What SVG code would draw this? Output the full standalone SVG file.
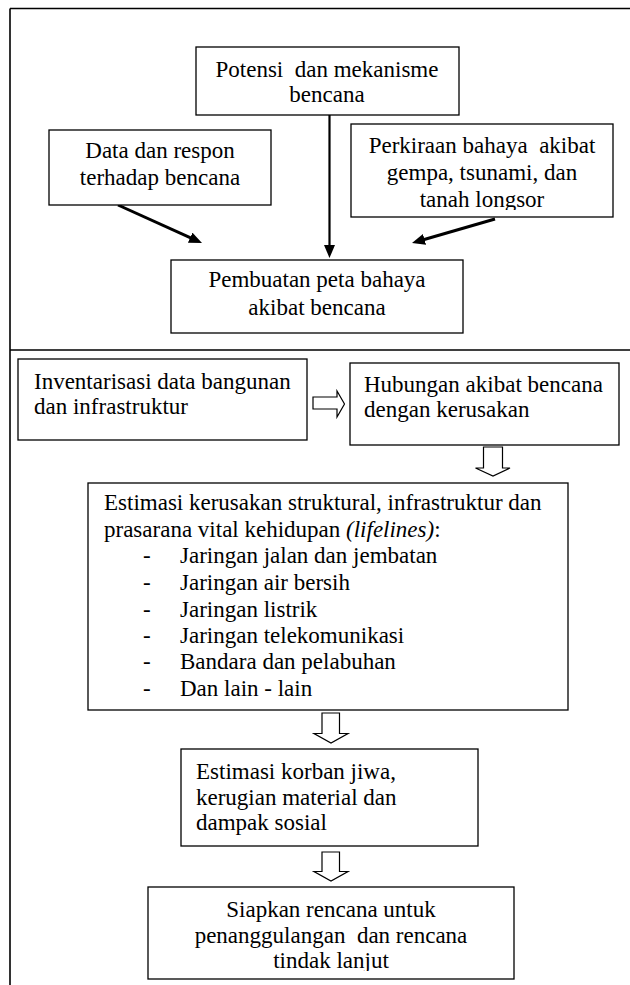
<svg xmlns="http://www.w3.org/2000/svg" width="630" height="985" viewBox="0 0 630 985">
<style>
.box{fill:#fff;stroke:#000;stroke-width:1.3}
.frame{fill:none;stroke:#000;stroke-width:1.6}
text{font-family:"Liberation Serif","Times New Roman",serif;font-size:23px;fill:#000}
.c{text-anchor:middle}
.arr{stroke:#000;stroke-width:3;fill:none}
.hollow{fill:#fff;stroke:#000;stroke-width:1.2;stroke-linejoin:miter}
</style>
<defs>
<marker id="ah" markerUnits="userSpaceOnUse" markerWidth="14" markerHeight="12" refX="3" refY="5.5" orient="auto">
<path d="M0,0 L13,5.5 L0,11 Z" fill="#000"/>
</marker>
<clipPath id="clipP"><rect x="351" y="124" width="262" height="86"/></clipPath>
<clipPath id="clipS"><rect x="148" y="887" width="366" height="84"/></clipPath>
</defs>
<rect width="630" height="985" fill="#fff"/>
<g id="frame">
<path class="frame" d="M10,8.5 H632 M10,8.5 V985 M10,350 H632"/>
</g>
<g id="connectors">
<line class="arr" x1="329.5" y1="115" x2="329.5" y2="248" style="stroke-width:2.2" marker-end="url(#ah)"/>
<line class="arr" x1="118" y1="205" x2="192.9" y2="238.9" marker-end="url(#ah)"/>
<line class="arr" x1="495" y1="219" x2="421.6" y2="240.2" marker-end="url(#ah)"/>
<path class="hollow" d="M313,397 H337 V391 L344.5,404 L337,417 V409 H313 Z"/>
<path class="hollow" d="M483.5,447 H502.5 V468 H510 L493,476 L475.5,468 H483.5 Z"/>
<path class="hollow" d="M322,713 H339.5 V733.5 H348 L331,743 L314,733.5 H322 Z"/>
<path class="hollow" d="M322,852 H339.5 V871.5 H348 L331,881 L314,871.5 H322 Z"/>
</g>
<g id="n1">
<rect class="box" x="196" y="47" width="263" height="68"/>
<text class="c" x="327" y="77" xml:space="preserve">Potensi  dan mekanisme</text>
<text class="c" x="327" y="102">bencana</text>
</g>
<g id="n2">
<rect class="box" x="49" y="130" width="222" height="75"/>
<text class="c" x="160" y="158">Data dan respon</text>
<text class="c" x="160" y="185">terhadap bencana</text>
</g>
<g id="n3">
<rect class="box" x="351" y="124" width="262" height="93"/>
<g clip-path="url(#clipP)">
<text class="c" x="482" y="153" xml:space="preserve">Perkiraan bahaya  akibat</text>
<text class="c" x="482" y="180">gempa, tsunami, dan</text>
<text class="c" x="482" y="207">tanah longsor</text>
</g>
</g>
<g id="n4">
<rect class="box" x="171" y="260" width="292" height="73"/>
<text class="c" x="317" y="287">Pembuatan peta bahaya</text>
<text class="c" x="317" y="315">akibat bencana</text>
</g>
<g id="n5">
<rect class="box" x="18" y="359" width="289" height="81"/>
<text x="34" y="389">Inventarisasi data bangunan</text>
<text x="34" y="414">dan infrastruktur</text>
</g>
<g id="n6">
<rect class="box" x="350" y="363" width="269" height="82"/>
<text x="364" y="392">Hubungan akibat bencana</text>
<text x="364" y="417">dengan kerusakan</text>
</g>
<g id="n7">
<rect class="box" x="88" y="483" width="480" height="227"/>
<text x="104" y="510">Estimasi kerusakan struktural, infrastruktur dan</text>
<text x="104" y="537">prasarana vital kehidupan <tspan font-style="italic">(lifelines)</tspan>:</text>
<text x="143" y="563">-</text><text x="180" y="563">Jaringan jalan dan jembatan</text>
<text x="143" y="590">-</text><text x="180" y="590">Jaringan air bersih</text>
<text x="143" y="617">-</text><text x="180" y="617">Jaringan listrik</text>
<text x="143" y="643">-</text><text x="180" y="643">Jaringan telekomunikasi</text>
<text x="143" y="669">-</text><text x="180" y="669">Bandara dan pelabuhan</text>
<text x="143" y="696">-</text><text x="180" y="696">Dan lain - lain</text>
</g>
<g id="n8">
<rect class="box" x="181" y="749" width="297" height="97"/>
<text x="196" y="779">Estimasi korban jiwa,</text>
<text x="196" y="805">kerugian material dan</text>
<text x="196" y="830">dampak sosial</text>
</g>
<g id="n9">
<rect class="box" x="148" y="887" width="366" height="92"/>
<g clip-path="url(#clipS)">
<text class="c" x="331" y="917">Siapkan rencana untuk</text>
<text class="c" x="331" y="943" xml:space="preserve">penanggulangan  dan rencana</text>
<text class="c" x="331" y="968">tindak lanjut</text>
</g>
</g>
</svg>
